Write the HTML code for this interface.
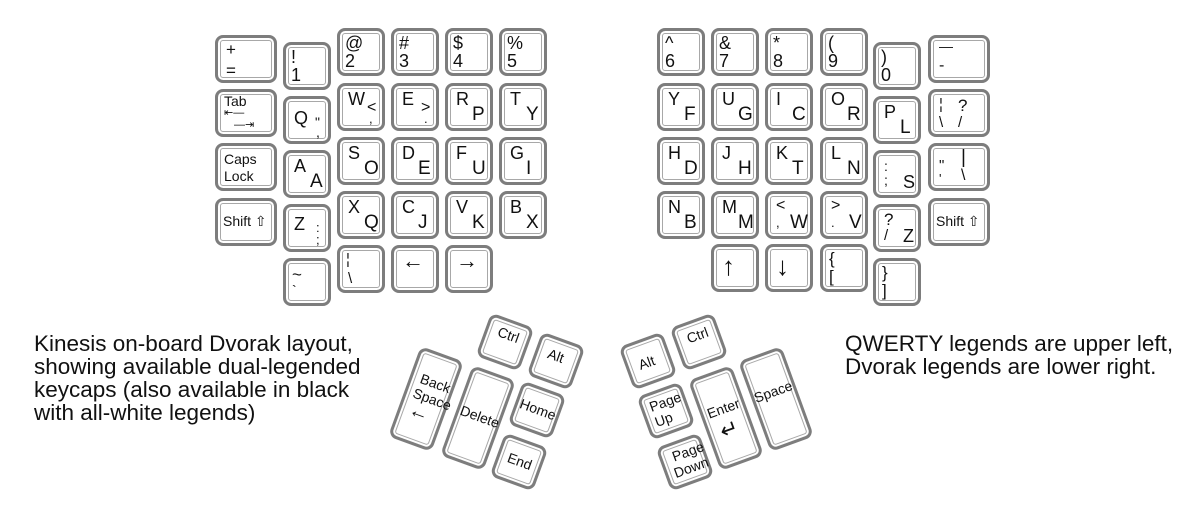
<!DOCTYPE html>
<html><head><meta charset="utf-8">
<style>
html,body{margin:0;padding:0;background:#fff;}
body{width:1204px;height:529px;position:relative;overflow:hidden;font-family:"Liberation Sans",Arial,sans-serif;color:#111;}
.key{position:absolute;box-sizing:border-box;border:3px solid #7d7d7d;border-radius:8px;background:#fff;box-shadow:inset 0 0 0 2px #fff,inset 0 0 0 3px #a8a8a8;}
.lg{position:absolute;line-height:1;white-space:pre;}
.note{position:absolute;font-size:22.5px;line-height:23px;color:#111;white-space:nowrap;}
</style></head>
<body>
<div class="note" style="left:34px;top:332px;">Kinesis on-board Dvorak layout,<br>showing available dual-legended<br>keycaps (also available in black<br>with all-white legends)</div>
<div class="note" style="left:845px;top:332px;">QWERTY legends are upper left,<br>Dvorak legends are lower right.</div>
<script>
// key list: [x, y, w, h, name, legends]; legend: [text, left, top, size]
function num(a,b){return [[a,5,3,18],[b,5,21,18]];}
function qd(a,b){return [[a,8,4,18],[b,24,19,19]];}
const keys=[
 [215,35,62,48,'plus-equals-key',[['+',8,3,17],['=',8,24,17]]],
 [215,89,62,48,'tab-key',[['Tab',6,2,14],['⇤—',6,16,11],['—⇥',16,28,11]]],
 [215,143,62,48,'caps-lock-key',[['Caps',6,6,14],['Lock',6,23,14]]],
 [215,198,62,48,'left-shift-key',[['Shift ⇧',5,13,14]]],
 [283,42,48,48,'key-1',num('!','1')],
 [283,96,48,48,'key-q',[['Q',8,10,18],['"',29,16,14],[',',30,26,14]]],
 [283,150,48,48,'key-a',qd('A','A')],
 [283,204,48,48,'key-z',[['Z',8,8,18],[':',30,14,13],[';',30,26,13]]],
 [283,258,48,48,'key-tilde',[['~',6,5,17],['`',6,22,14]]],
 [337,28,48,48,'key-2',num('@','2')],
 [391,28,48,48,'key-3',num('#','3')],
 [445,28,48,48,'key-4',num('$','4')],
 [499,28,48,48,'key-5',num('%','5')],
 [337,83,48,48,'key-w',[['W',8,4,18],['<',27,14,16],[',',29,26,13]]],
 [391,83,48,48,'key-e',[['E',8,4,18],['>',27,14,16],['.',30,26,13]]],
 [445,83,48,48,'key-r',qd('R','P')],
 [499,83,48,48,'key-t',qd('T','Y')],
 [337,137,48,48,'key-s',qd('S','O')],
 [391,137,48,48,'key-d',qd('D','E')],
 [445,137,48,48,'key-f',qd('F','U')],
 [499,137,48,48,'key-g',qd('G','I')],
 [337,191,48,48,'key-x',qd('X','Q')],
 [391,191,48,48,'key-c',qd('C','J')],
 [445,191,48,48,'key-v',qd('V','K')],
 [499,191,48,48,'key-b',qd('B','X')],
 [337,245,48,48,'key-backslash',[['¦',6,4,15],['\\',8,23,15]]],
 [391,245,48,48,'left-arrow-key',[['←',8,2,22]]],
 [445,245,48,48,'right-arrow-key',[['→',8,2,22]]],
 [657,28,48,48,'key-6',num('^','6')],
 [711,28,48,48,'key-7',num('&','7')],
 [765,28,48,48,'key-8',num('*','8')],
 [820,28,48,48,'key-9',num('(','9')],
 [657,83,48,48,'key-y',qd('Y','F')],
 [711,83,48,48,'key-u',qd('U','G')],
 [765,83,48,48,'key-i',qd('I','C')],
 [820,83,48,48,'key-o',qd('O','R')],
 [657,137,48,48,'key-h',qd('H','D')],
 [711,137,48,48,'key-j',qd('J','H')],
 [765,137,48,48,'key-k',qd('K','T')],
 [820,137,48,48,'key-l',qd('L','N')],
 [657,191,48,48,'key-n',qd('N','B')],
 [711,191,48,48,'key-m',qd('M','M')],
 [765,191,48,48,'key-comma',[['<',8,4,16],[',',8,22,13],['W',22,19,19]]],
 [820,191,48,48,'key-period',[['>',8,4,16],['.',8,22,13],['V',26,19,19]]],
 [711,244,48,48,'up-arrow-key',[['↑',8,6,26]]],
 [765,244,48,48,'down-arrow-key',[['↓',8,6,26]]],
 [820,244,48,48,'key-bracket-left',[['{',6,3,17],['[',6,21,17]]],
 [873,42,48,48,'key-0',num(')','0')],
 [873,96,48,48,'key-p',qd('P','L')],
 [873,150,48,48,'key-semicolon',[[':',8,6,14],[';',8,20,14],['S',27,20,18]]],
 [873,204,48,48,'key-slash',[['?',8,4,17],['/',8,21,15],['Z',27,20,18]]],
 [873,258,48,48,'key-bracket-right',[['}',6,3,17],[']',6,21,17]]],
 [928,35,62,48,'key-minus',[['—',8,1,14],['-',8,20,16]]],
 [928,89,62,48,'key-quote-slash',[['¦',8,5,15],['\\',8,23,15],['?',27,5,17],['/',27,23,15]]],
 [928,143,62,48,'key-pipe',[['"',8,12,15],["'",8,26,13],['|',30,2,19],['\\',30,22,16]]],
 [928,198,62,48,'right-shift-key',[['Shift ⇧',5,13,14]]]
];
// thumb keys: [cx, cy, w, h, angle, name, legends]
const thumbs=[
 [505,342,46,46,20,'left-ctrl-key',[['Ctrl',10,5,14]]],
 [556,361,46,46,20,'left-alt-key',[['Alt',10,8,14]]],
 [426,399,46,96,20,'backspace-key',[['Back',8,20,14],['Space',6,36,14],['←',8,50,20]]],
 [478,418,46,96,20,'delete-key',[['Delete',1,36,14]]],
 [537,410,46,46,20,'home-key',[['Home',2,12,14]]],
 [519,462,46,46,20,'end-key',[['End',8,12,14]]],
 [648,361,46,46,-20,'right-alt-key',[['Alt',10,14,14]]],
 [699,342,46,46,-20,'right-ctrl-key',[['Ctrl',10,6,14]]],
 [666,411,46,46,-20,'page-up-key',[['Page',6,4,14],['Up',6,20,14]]],
 [685,462,46,46,-20,'page-down-key',[['Page',10,4,14],['Down',6,20,14]]],
 [726,418,46,96,-20,'enter-key',[['Enter',4,28,14],['↵',10,46,22]]],
 [776,399,46,96,-20,'space-key',[['Space',0,30,14]]]
];
function addLegends(el,legs){
 for(const l of legs){
  const s=document.createElement('span');
  s.className='lg';
  s.textContent=l[0];
  s.style.left=l[1]+'px';s.style.top=l[2]+'px';s.style.fontSize=l[3]+'px';
  
  
  el.appendChild(s);
 }
}
for(const k of keys){
 const el=document.createElement('div');
 el.className='key';
 el.style.left=k[0]+'px';el.style.top=k[1]+'px';el.style.width=k[2]+'px';el.style.height=k[3]+'px';
 
 
 addLegends(el,k[5]);
 document.body.appendChild(el);
}
for(const t of thumbs){
 const el=document.createElement('div');
 el.className='key';
 el.style.left=(t[0]-t[2]/2)+'px';el.style.top=(t[1]-t[3]/2)+'px';
 el.style.width=t[2]+'px';el.style.height=t[3]+'px';
 el.style.transform='rotate('+t[4]+'deg)';
 
 
 addLegends(el,t[6]);
 document.body.appendChild(el);
}
</script>
</body></html>
